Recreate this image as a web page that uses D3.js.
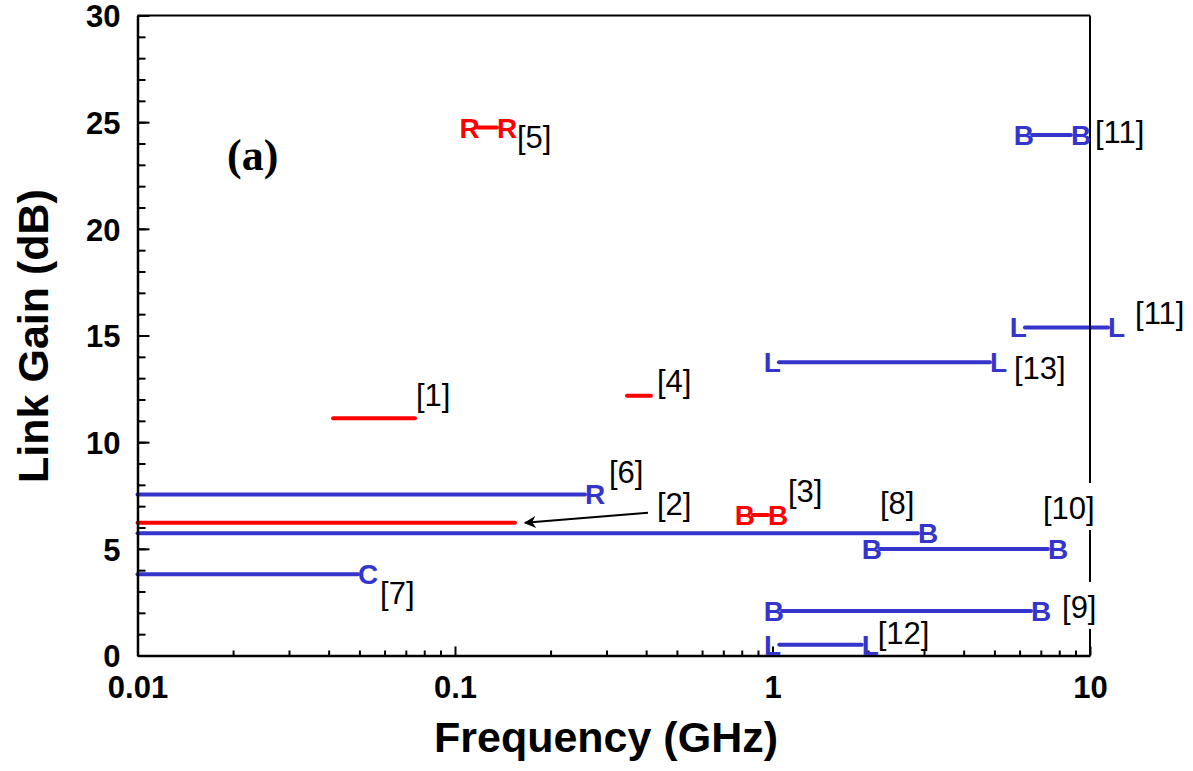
<!DOCTYPE html>
<html>
<head>
<meta charset="utf-8">
<script src="https://cdn.jsdelivr.net/npm/d3@7"></script>
<style>
  html, body { margin: 0; padding: 0; background: #fff; }
  svg { display: block; }
</style>
</head>
<body>
<svg id="chart" width="1193" height="771"></svg>
<script>
// ---------------- DATA ----------------
const refLabels  = ["[1]", "[2]", "[3]", "[4]", "[5]", "[6]", "[7]", "[8]", "[9]", "[10]", "[11]", "[11]", "[12]", "[13]"];
const freqStart  = [0.0413, 0.01, 0.868, 0.348, 0.118, 0.01, 0.01, 0.01, 1.071, 2.18, 6.57, 6.24, 1.05, 1.048];   // GHz
const freqEnd    = [0.0748, 0.1545, 0.968, 0.414, 0.1356, 0.2567, 0.0495, 2.87, 6.52, 7.37, 8.71, 11.4, 1.91, 4.84]; // GHz
const linkGainDb = [11.12, 6.22, 6.59, 12.18, 24.75, 7.55, 3.81, 5.73, 2.09, 4.99, 24.4, 15.38, 0.5, 13.75];     // dB
const groupKey   = ["red", "red", "red", "red", "red", "blue", "blue", "blue", "blue", "blue", "blue", "blue", "blue", "blue"];
const startMark  = ["", "", "B", "", "R", "", "", "", "B", "B", "B", "L", "L", "L"];
const endMark    = ["", "", "B", "", "R", "R", "C", "B", "B", "B", "B", "L", "L", "L"];

const yTickValues      = [0, 5, 10, 15, 20, 25, 30];
const yMinorTickValues = d3.range(0, 31, 1);
const xTickValues      = [0.01, 0.1, 1, 10];
const xTickLabels      = ["0.01", "0.1", "1", "10"];
const xMinorTickValues = [0.01, 0.1, 1].flatMap(d => [2,3,4,5,6,7,8,9].map(k => +(d * k).toPrecision(3)));

const xTitle = "Frequency (GHz)";
const yTitle = "Link Gain (dB)";
const panelTag = "(a)";

// ---------------- LAYOUT / STYLE ----------------
const colors = { red: "#ff0000", blue: "#3535cc" };
const plot = { left: 137.5, right: 1090, top: 15.5, bottom: 655.5 };
// label offsets (px) relative to the segment end point
const labelDx = [1, 142, 20, 6, 20, 24, 22, -38, 31, -5, 24, 27, 16, 24];
const labelDy = [-12, -8, -13, -4, 20, -11, 30, -19, 7, -30, 8, -3, -1, 17];
// arrow for [2]: offsets relative to end of segment [2]
const arrowFrom = [133, -10], arrowTo = [10, 0];

const svg = d3.select("#chart");
const x = d3.scaleLog().domain([0.01, 10]).range([plot.left, plot.right]);
const y = d3.scaleLinear().domain([0, 30]).range([plot.bottom, plot.top]);

const segs = refLabels.map((r, i) => ({
  ref: r, f1: freqStart[i], f2: freqEnd[i], g: linkGainDb[i],
  color: colors[groupKey[i]], sm: startMark[i], em: endMark[i],
  dx: labelDx[i], dy: labelDy[i]
}));

// segments
svg.append("g").selectAll("line").data(segs).join("line")
  .attr("x1", d => x(d.f1)).attr("x2", d => x(d.f2))
  .attr("y1", d => y(d.g)).attr("y2", d => y(d.g))
  .attr("stroke", d => d.color).attr("stroke-width", 4)
  .attr("stroke-linecap", "round");

// frame top & right
svg.append("line").attr("x1", plot.left).attr("x2", plot.right)
  .attr("y1", plot.top).attr("y2", plot.top).attr("stroke", "#000").attr("stroke-width", 2);
svg.append("line").attr("x1", plot.right).attr("x2", plot.right)
  .attr("y1", plot.top).attr("y2", plot.bottom).attr("stroke", "#000").attr("stroke-width", 2);

// axes
const fontSans = "'Liberation Sans', Arial, sans-serif";
const yMinor = svg.append("g").attr("transform", `translate(${plot.left},0)`)
  .call(d3.axisLeft(y).tickValues(yMinorTickValues).tickSize(-8).tickFormat(""));
yMinor.select(".domain").remove();
const yMajor = svg.append("g").attr("transform", `translate(${plot.left},0)`)
  .call(d3.axisLeft(y).tickValues(yTickValues).tickSize(-12).tickSizeOuter(0).tickPadding(17).tickFormat(d3.format("d")));
const xMinor = svg.append("g").attr("transform", `translate(0,${plot.bottom})`)
  .call(d3.axisBottom(x).tickValues(xMinorTickValues).tickSize(-5).tickFormat(""));
xMinor.select(".domain").remove();
const xMajor = svg.append("g").attr("transform", `translate(0,${plot.bottom})`)
  .call(d3.axisBottom(x).tickValues(xTickValues).tickSize(-9).tickSizeOuter(0).tickPadding(20)
    .tickFormat((d, i) => xTickLabels[i]));

[yMinor, yMajor, xMinor, xMajor].forEach(g => {
  g.selectAll(".tick line").attr("stroke", "#000").attr("stroke-width", 2);
  g.selectAll(".domain").attr("stroke", "#000").attr("stroke-width", 2.5);
  g.selectAll("text").attr("fill", "#000").style("font-family", fontSans)
    .style("font-weight", "bold").style("font-size", "31px");
});
yMajor.selectAll("text").attr("dy", "0.36em");

// axis titles
svg.append("text").attr("x", 606).attr("y", 752).attr("text-anchor", "middle")
  .style("font-family", fontSans).style("font-weight", "bold").style("font-size", "43px").text(xTitle);
svg.append("text").attr("transform", "translate(48,336) rotate(-90)").attr("text-anchor", "middle")
  .style("font-family", fontSans).style("font-weight", "bold").style("font-size", "43px").text(yTitle);

// panel tag
svg.append("text").attr("x", 227).attr("y", 170)
  .style("font-family", "'Liberation Serif', 'Times New Roman', serif").style("font-weight", "bold")
  .style("font-size", "44px").text(panelTag);

// arrow for [2]
const s2 = segs[1];
svg.append("defs").append("marker").attr("id", "ah").attr("viewBox", "0 0 10 10")
  .attr("refX", 9).attr("refY", 5).attr("markerWidth", 7).attr("markerHeight", 6)
  .attr("markerUnits", "strokeWidth").attr("orient", "auto")
  .append("path").attr("d", "M0,0 L10,5 L0,10 L3,5 Z").attr("fill", "#000");
svg.append("line")
  .attr("x1", x(s2.f2) + arrowFrom[0]).attr("y1", y(s2.g) + arrowFrom[1])
  .attr("x2", x(s2.f2) + arrowTo[0]).attr("y2", y(s2.g) + arrowTo[1])
  .attr("stroke", "#000").attr("stroke-width", 2).attr("marker-end", "url(#ah)");

// reference labels (with white box where they cross the right frame)
const labG = svg.append("g");
segs.forEach(d => {
  const t = labG.append("text")
    .attr("x", x(d.f2) + d.dx).attr("y", y(d.g) + d.dy)
    .style("font-family", fontSans).style("font-size", "31px").attr("fill", "#000")
    .text(d.ref);
  const bb = t.node().getBBox();
  if (bb.x < plot.right && bb.x + bb.width > plot.right) {
    labG.insert("rect", () => t.node())
      .attr("x", bb.x - 2).attr("y", bb.y - 8).attr("width", bb.width + 4).attr("height", bb.height + 12)
      .attr("fill", "#fff");
  }
});

// end letters
const letG = svg.append("g").style("font-family", fontSans).style("font-weight", "bold").style("font-size", "28px");
segs.forEach(d => {
  if (d.sm) letG.append("text").attr("x", x(d.f1) + 2).attr("y", y(d.g) + 10)
    .attr("text-anchor", "end").attr("fill", d.color).text(d.sm);
  if (d.em) letG.append("text").attr("x", x(d.f2)).attr("y", y(d.g) + 10)
    .attr("text-anchor", "start").attr("fill", d.color).text(d.em);
});
</script>
</body>
</html>
